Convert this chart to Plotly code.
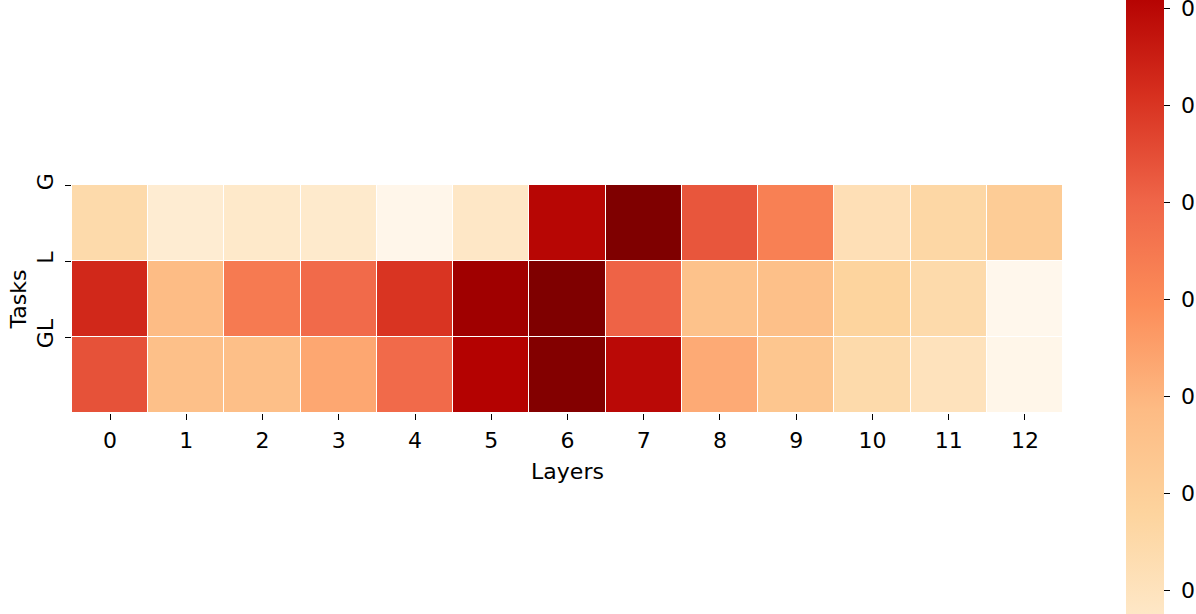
import plotly.graph_objects as go

layers = list(range(13))
tasks = ["G", "L", "GL"]

row_g = [0.0244, 0.0141, 0.0166, 0.0158, 0.0068, 0.0175, 0.0804, 0.0925, 0.0632, 0.0528, 0.0218, 0.0261, 0.0313]
row_l = [0.0727, 0.0382, 0.0546, 0.0589, 0.0701, 0.0856, 0.0925, 0.0606, 0.0356, 0.0365, 0.0279, 0.0244, 0.0063]
row_gl = [0.0641, 0.0365, 0.0370, 0.0434, 0.0589, 0.0813, 0.0916, 0.0796, 0.0425, 0.0339, 0.0244, 0.0201, 0.0072]

cbar_ticks = [0.02, 0.03, 0.04, 0.05, 0.06, 0.07, 0.08]

font = "DejaVu Sans"
fs = 22

fig = go.Figure(go.Heatmap(
    z=[row_g, row_l, row_gl],
    x=layers,
    y=[0.5, 1.5, 2.5],
    colorscale="OrRd",
    xgap=1, ygap=1,
    colorbar=dict(
        thickness=38, len=836, lenmode="pixels",
        x=1.0636, xanchor="left", xpad=0,
        y=0.474, yanchor="middle", ypad=0,
        outlinewidth=0,
        ticks="outside", ticklen=6, tickcolor="black",
        # colorbar runs past the page edge, labels get cut like in the original
        tickvals=cbar_ticks, ticktext=["\u00a0" + f"{v:.2f}" for v in cbar_ticks],
        ticklabeloverflow="allow",
        tickfont=dict(family=font, size=fs, color="black"),
    ),
))

fig.update_layout(
    width=1196, height=614,
    margin=dict(l=72, r=133, t=185, b=201, autoexpand=False),
    plot_bgcolor="white", paper_bgcolor="white",
    font=dict(family=font, size=fs, color="black"),
)
fig.update_xaxes(
    range=[-0.5, 12.5], tickvals=layers, ticks="outside", ticklen=6,
    tickcolor="black", showgrid=False, zeroline=False, automargin=False,
    tickfont=dict(size=fs), ticklabelstandoff=2,
    title=dict(text="Layers", standoff=11, font=dict(size=fs)),
)
fig.update_yaxes(
    range=[3, 0], tickvals=[0, 1, 2], ticktext=tasks, tickangle=-90,
    ticks="outside", ticklen=6, tickcolor="black",
    showgrid=False, zeroline=False, automargin=False,
    tickfont=dict(size=fs), ticklabelstandoff=3,
    title=dict(text="Tasks", standoff=0, font=dict(size=fs)),
)

fig.write_html("out.html", config={"displayModeBar": False},
               post_script="document.body.style.margin = '0';")
